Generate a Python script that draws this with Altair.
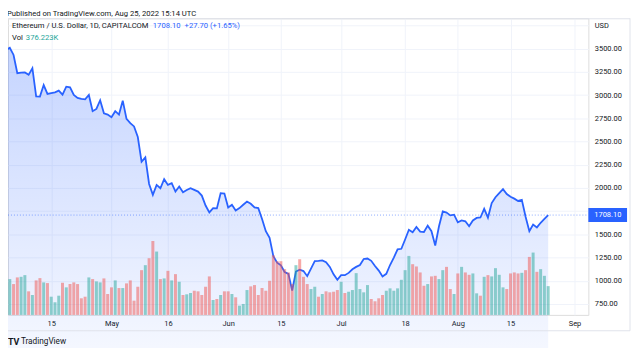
import altair as alt
import pandas as pd

# ---------------- data ----------------
start_date = "2022-04-03"

close = [
    3486, 3511, 3433, 3237, 3242, 3244, 3219, 3290, 2987, 2984,
    3109, 3013, 3023, 3030, 3048, 3005, 3091, 3084, 3002, 2970,
    2959, 2955, 3002, 2827, 2852, 2945, 2805, 2791, 2763, 2827,
    2791, 2941, 2745, 2698, 2663, 2549, 2282, 2329, 2043, 1926,
    2033, 1997, 2094, 2033, 2051, 1961, 2015, 1954, 1979, 1997,
    1979, 1961, 1918, 1811, 1737, 1783, 1780, 1944, 1940, 1790,
    1819, 1758, 1783, 1819, 1854, 1830, 1790, 1783, 1666, 1534,
    1463, 1266, 1196, 1167, 1095, 1075, 895, 1100, 1120, 1105,
    1050, 1132, 1213, 1215, 1220, 1200, 1150, 1070, 1010, 1060,
    1060, 1085, 1124, 1150, 1170, 1235, 1240, 1215, 1160, 1110,
    1046, 1075, 1170, 1250, 1338, 1345, 1445, 1550, 1523, 1580,
    1530, 1525, 1594, 1534, 1380, 1587, 1747, 1735, 1705, 1712,
    1630, 1650, 1641, 1587, 1650, 1677, 1682, 1775, 1680, 1838,
    1900, 1944, 1987, 1935, 1905, 1885, 1860, 1872, 1690, 1534,
    1605, 1575, 1625, 1666, 1708.10,
]

volume_k = [
    403, 468, 403, 490, 498, 520, 308, 260, 451, 481,
    425, 416, 238, 165, 251, 420, 360, 403, 425, 403,
    217, 238, 490, 468, 438, 425, 477, 273, 360, 451,
    351, 351, 412, 451, 186, 368, 585, 650, 741, 966,
    828, 468, 477, 576, 451, 533, 433, 260, 269, 286,
    316, 308, 260, 368, 503, 195, 208, 260, 308, 308,
    273, 230, 121, 143, 325, 373, 390, 260, 351, 316,
    446, 780, 702, 702, 598, 555, 403, 650, 728, 498,
    403, 338, 368, 238, 273, 308, 295, 303, 325, 433,
    286, 303, 325, 546, 338, 295, 390, 208, 178, 217,
    260, 316, 347, 316, 347, 459, 585, 771, 663, 633,
    555, 381, 403, 503, 511, 468, 585, 628, 338, 273,
    542, 628, 555, 524, 542, 282, 251, 498, 520, 503,
    611, 524, 360, 338, 542, 555, 542, 550, 585, 758,
    815, 563, 598, 511, 376.223,
]

# 1 = up day (green volume bar), 0 = down day (red volume bar)
up = [
    1, 1, 0, 0, 1, 1, 0, 1, 0, 0, 1, 0, 1, 1, 1, 0, 1, 0, 0, 0, 0, 0, 1, 0, 1,
    1, 0, 0, 0, 1, 0, 1, 0, 0, 0, 0, 0, 1, 0, 0, 1, 0, 1, 0, 1, 0, 1, 0, 1, 1,
    0, 0, 0, 0, 0, 1, 0, 1, 0, 0, 1, 0, 1, 1, 1, 0, 0, 0, 0, 0, 0, 0,
    0, 0, 0, 0, 0, 1, 0, 0, 0, 1, 1, 0, 1, 0, 0, 0, 0, 1, 0, 1, 1, 1, 1, 1, 1,
    0, 0, 0, 0, 1, 1, 1, 1, 1, 1, 1, 0, 0, 0, 0, 1, 0, 0, 1, 1, 0, 0, 1, 0, 1,
    0, 0, 1, 1, 0, 1, 0, 1, 1, 1, 1, 0, 0, 0, 0, 1, 0, 0, 1, 0, 1, 1, 1,
]

x_tick_dates = [(2022, 4, 15), (2022, 5, 1), (2022, 5, 16), (2022, 6, 1), (2022, 6, 15),
                (2022, 7, 1), (2022, 7, 18), (2022, 8, 1), (2022, 8, 15), (2022, 9, 1)]
price_ticks = [750, 1000, 1250, 1500, 1750, 2000, 2250, 2500, 2750, 3000, 3250, 3500, 3750]

last_price = [1708.10]
title_text = ["Published on TradingView.com, Aug 25, 2022 15:14 UTC"]
legend_name = ["Ethereum / U.S. Dollar, 1D, CAPITALCOM"]
legend_price = ["1708.10"]
legend_change = ["+27.70 (+1.65%)"]
legend_vol_label = ["Vol"]
legend_vol_value = ["376.223K"]
footer_logo = ["TV"]
footer_text = ["TradingView"]

assert len(close) == len(volume_k) == len(up) == 145

# ---------------- table ----------------
dates = pd.date_range(start_date, periods=len(close), freq="D").strftime("%Y-%m-%d").tolist()
df = pd.DataFrame({
    "date": dates,
    "close": close,
    "vol": volume_k,
    "dir": ["up" if u else "down" for u in up],
})
last_df = pd.DataFrame({"close": last_price, "label": legend_price})

FONT = "Roboto"
FS = 7.5      # axis labels
LFS = 7.7     # legend / header texts
W, H = 585, 299
BLUE = "#2962ff"
TEXT = "#131722"
GRID = "#f0f3fa"

x_scale = alt.Scale(
    type="utc",
    padding=0,
    nice=False,
    domain=[alt.DateTime(year=2022, month=4, date=3, hours=12, minutes=30, utc=True),
            alt.DateTime(year=2022, month=9, date=4, hours=16, minutes=5, utc=True)],
)
x_axis = alt.Axis(
    title=None, domain=False, ticks=False, labelPadding=5, labelFontSize=FS,
    labelColor=TEXT, labelFont=FONT, grid=True, gridColor=GRID,
    values=[alt.DateTime(year=y, month=m, date=d, utc=True) for (y, m, d) in x_tick_dates],
    labelExpr="utcdate(datum.value) == 1 ? utcFormat(datum.value, '%b') : utcFormat(datum.value, '%-d')",
    labelFlush=False, labelOverlap=False,
)
X = alt.X("date:T", scale=x_scale, axis=x_axis)

p_scale = alt.Scale(domain=[632.6, 3828.1], zero=False, nice=False)
p_axis = alt.Axis(
    orient="right", title=None, domain=False, ticks=False, labelPadding=6,
    labelAlign="left", labelFontSize=FS, labelFont=FONT, labelColor=TEXT,
    grid=True, gridColor=GRID, values=price_ticks,
    labelExpr="datum.value == 3750 ? 'USD' : format(datum.value, '.2f')",
    labelOverlap=False, labelFlush=False,
)

base = alt.Chart(df)

area = base.mark_area(
    color=alt.Gradient(
        gradient="linear",
        stops=[alt.GradientStop(color="rgba(41,98,255,0.27)", offset=0),
               alt.GradientStop(color="rgba(41,98,255,0.03)", offset=1)],
        x1=1, x2=1, y1=0, y2=1,
    ),
    line=False,
).encode(x=X, y=alt.Y("close:Q", scale=p_scale, axis=p_axis), y2=alt.value(H))

line = base.mark_line(color=BLUE, strokeWidth=1.8).encode(
    x=X, y=alt.Y("close:Q", scale=p_scale, axis=p_axis)
)

last_rule = alt.Chart(last_df).mark_rule(
    color=BLUE, strokeDash=[1, 2], strokeWidth=1, opacity=0.55
).encode(y=alt.Y("close:Q", scale=p_scale, axis=p_axis), x=alt.value(0), x2=alt.value(W))

last_box = alt.Chart(last_df).transform_calculate(
    lo="datum.close - 75", hi="datum.close + 75"
).mark_rect(color=BLUE).encode(
    y=alt.Y("lo:Q", scale=p_scale, axis=p_axis), y2="hi:Q",
    x=alt.value(W), x2=alt.value(W + 39),
)

last_text = alt.Chart(last_df).mark_text(
    color="white", fontSize=FS, font=FONT, align="left", baseline="middle"
).encode(
    y=alt.Y("close:Q", scale=p_scale, axis=p_axis), x=alt.value(W + 6), text="label:N"
)

price_layer = alt.layer(area, line, last_rule, last_box, last_text)

vol = base.mark_bar(size=3, opacity=0.5).encode(
    x=X,
    y=alt.Y("vol:Q", scale=alt.Scale(domain=[0, H * 12.97], nice=False, zero=True), axis=None),
    color=alt.Color("dir:N", scale=alt.Scale(domain=["up", "down"], range=["#26a69a", "#ef5350"]), legend=None),
)


def label(values, x, y, color=TEXT, size=LFS, weight="normal", align="left"):
    return alt.Chart(pd.DataFrame({"t": values})).mark_text(
        color=color, fontSize=size, font=FONT, fontWeight=weight, align=align, baseline="middle"
    ).encode(x=alt.value(x), y=alt.value(y), text="t:N")


# panel border
border_col = "#e0e3eb"
frame_df = pd.DataFrame({"k": ["frame"]})
top_border = alt.Chart(frame_df).mark_rule(color=border_col).encode(
    x=alt.value(0), x2=alt.value(627), y=alt.value(0.5))
right_border = alt.Chart(frame_df).mark_rule(color=border_col).encode(
    x=alt.value(627), y=alt.value(0), y2=alt.value(315))
bottom_border = alt.Chart(frame_df).mark_rule(color=border_col).encode(
    x=alt.value(0), x2=alt.value(627), y=alt.value(315))

texts = [
    label(title_text, -1, -4.5),
    label(legend_name, 4, 8),
    label(legend_price, 146, 8, color=BLUE),
    label(legend_change, 178, 8, color=BLUE),
    label(legend_vol_label, 4, 20),
    label(legend_vol_value, 18, 20, color="#26a69a"),
    label(footer_logo, 0, 326, size=9, weight="bold"),
    label(footer_text, 13, 326, size=8.3),
]

chart = alt.layer(
    price_layer, vol, top_border, right_border, bottom_border, *texts
).resolve_scale(y="independent").properties(
    width=W, height=H,
    padding={"left": 0, "top": 9, "right": 44, "bottom": 32},
    autosize=alt.AutoSizeParams(type="none"),
    background="white",
).configure_view(strokeWidth=0).configure(font=FONT)

chart.save("out.html", embed_options={"renderer": "svg", "actions": False})
